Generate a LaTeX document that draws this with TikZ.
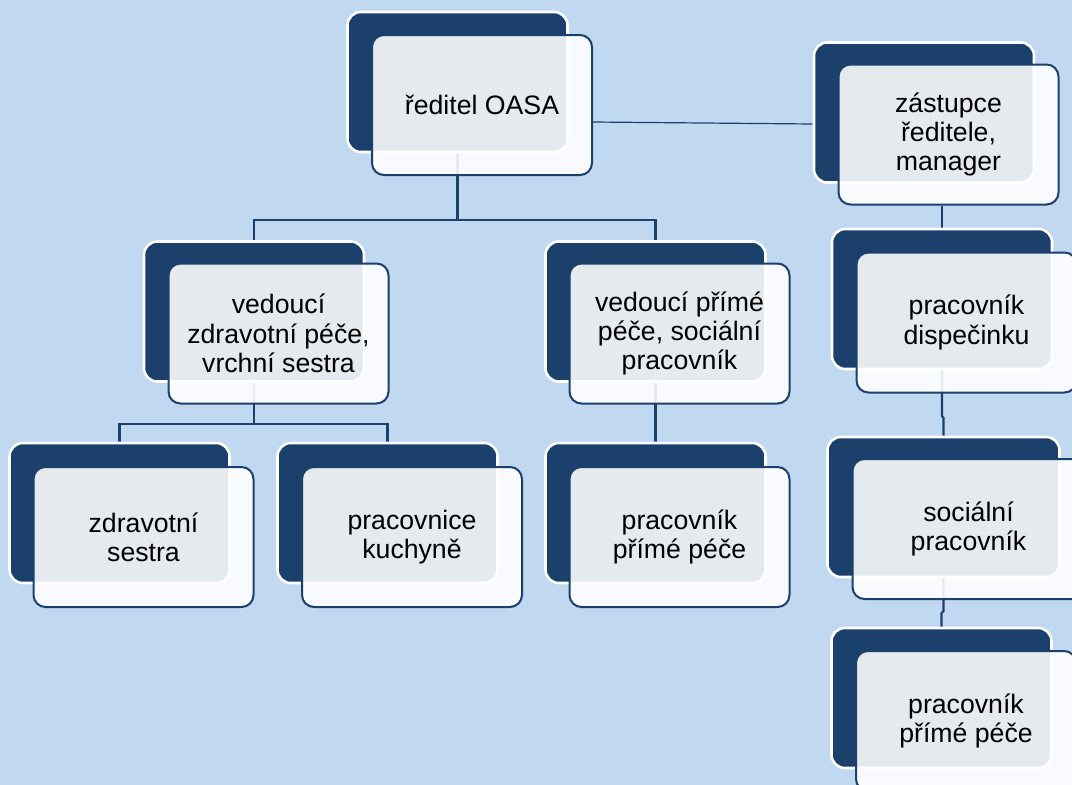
\documentclass[tikz,border=0pt]{standalone}
\usepackage{fontspec}
\setmainfont{Liberation Sans}

\definecolor{bgblue}{RGB}{192,216,240}
\definecolor{navy}{RGB}{27,64,108}

\pgfdeclarelayer{backdrop}
\pgfdeclarelayer{links}
\pgfsetlayers{backdrop,links,main}

\tikzset{
  backbox/.style={rectangle, rounded corners=10pt, fill=navy, draw=white, line width=1.9pt,
    minimum width=165pt, minimum height=105pt},
  frontbox/.style={rectangle, rounded corners=9pt, fill=white, fill opacity=0.89, text opacity=1,
    draw=navy, line width=1.5pt, minimum width=165pt, minimum height=105pt,
    align=center, font=\fontsize{20}{22}\selectfont},
  link/.style={draw=navy, line width=1.6pt},
  thinlink/.style={draw=navy, line width=0.9pt},
}

\begin{document}
\begin{tikzpicture}[x=0.75pt,y=0.75pt,yscale=-1,xscale=1]
    \useasboundingbox (0,0) rectangle (1072,785);
    \begin{pgfonlayer}{backdrop}
        \fill [bgblue] (0,0) rectangle (1072,785);
    \end{pgfonlayer}

    % top
    \node [backbox] (red) at (457.5,82) {};
    \node [frontbox] (redf) at ([shift={(24.5,23)}]red.center) {ředitel OASA};
    \node [backbox] (zas) at (924,112.5) {};
    \node [frontbox] (zasf) at ([shift={(24.5,22)}]zas.center) {zástupce\\ředitele,\\manager};

    % second row
    \node [backbox] (vz) at (254,311.5) {};
    \node [frontbox] (vzf) at ([shift={(24.5,22)}]vz.center) {vedoucí\\zdravotní péče,\\vrchní sestra};
    \node [backbox] (vp) at (655.5,311.5) {};
    \node [frontbox] (vpf) at ([shift={(24,22)}]vp.center) {vedoucí přímé\\péče, sociální\\pracovník};
    \node [backbox] (disp) at (942,299) {};
    \node [frontbox] (dispf) at ([shift={(24.5,23.5)}]disp.center) {pracovník\\dispečinku};

    % third row
    \node [backbox] (zs) at (119.5,513) {};
    \node [frontbox] (zsf) at ([shift={(24,24)}]zs.center) {zdravotní\\sestra};
    \node [backbox] (kuch) at (387.5,513) {};
    \node [frontbox] (kuchf) at ([shift={(24.5,24)}]kuch.center) {pracovnice\\kuchyně};
    \node [backbox] (pp) at (655.5,513) {};
    \node [frontbox] (ppf) at ([shift={(24,24)}]pp.center) {pracovník\\přímé péče};
    \node [backbox, minimum width=174pt] (soc) at (943.5,507) {};
    \node [frontbox, minimum width=174pt] (socf) at ([shift={(25,22)}]soc.center) {sociální\\pracovník};

    % bottom right
    \node [backbox] (prb) at (941.5,698) {};
    \node [frontbox] (prbf) at ([shift={(24.5,23)}]prb.center) {pracovník\\přímé péče};

    % connectors, behind the boxes
    \begin{pgfonlayer}{links}
        \draw [link] (red.center) -- (red.center |- 0,220) coordinate (fork1);
        \draw [link] (vz.center) |- (fork1) -| (vp.center);
        \draw [link] (vz.center) -- (vz.center |- 0,424) coordinate (fork2);
        \draw [link] (zs.center) |- (fork2) -| (kuch.center);
        \draw [link] (vp.center) -- (pp.center);
        \draw [thinlink] (redf.east |- 0,122) -- (zas.west |- 0,124);
        \draw [thinlink] (disp.center) -- (disp.center |- zasf.south);
        \draw [link] (disp.center) -- (disp.center |- 0,416) -- (soc.center |- 0,418) -- (soc.center);
        \draw [link] (soc.center) -- (soc.center |- 0,611) -- (prb.center |- 0,613) -- (prb.center);
    \end{pgfonlayer}
\end{tikzpicture}
\end{document}
